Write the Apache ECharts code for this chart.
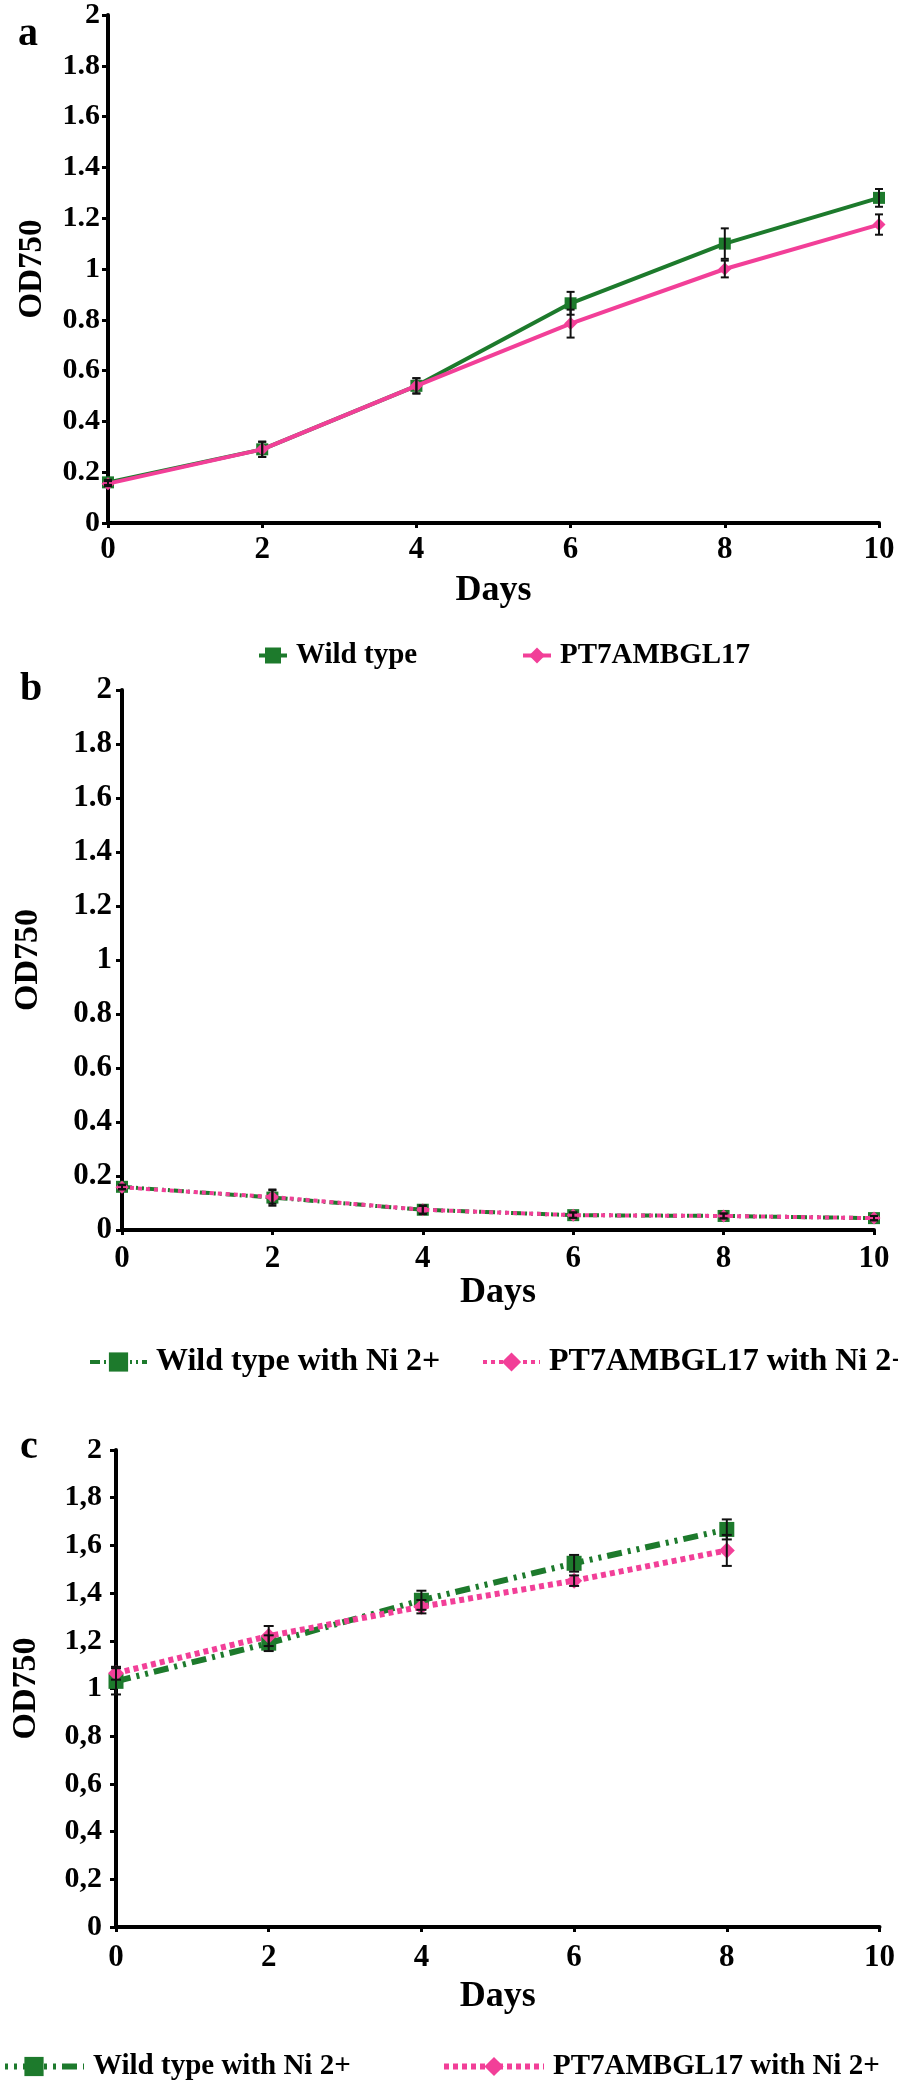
<!DOCTYPE html>
<html>
<head>
<meta charset="utf-8">
<script src="https://cdn.jsdelivr.net/npm/echarts@6/dist/echarts.min.js"></script>
<style>
html,body{margin:0;padding:0;background:#fff;}
#chart{width:898px;height:2083px;}
</style>
</head>
<body>
<div id="chart"></div>
<script>
// ---------- data ----------
const days = [0, 2, 4, 6, 8, 10];
const daysC = [0, 2, 4, 6, 8];
const xTicks = ['0', '2', '4', '6', '8', '10'];
const yTicksDot = ['0', '0.2', '0.4', '0.6', '0.8', '1', '1.2', '1.4', '1.6', '1.8', '2'];
const yTicksComma = ['0', '0,2', '0,4', '0,6', '0,8', '1', '1,2', '1,4', '1,6', '1,8', '2'];

// panel a
const wtA = [0.16, 0.29, 0.54, 0.865, 1.10, 1.28];
const wtAErr = [0.01, 0.03, 0.03, 0.045, 0.06, 0.035];
const ptA = [0.155, 0.29, 0.54, 0.785, 1.00, 1.175];
const ptAErr = [0.01, 0.03, 0.03, 0.055, 0.033, 0.04];
// panel b
const wtB = [0.16, 0.12, 0.075, 0.055, 0.052, 0.044];
const wtBErr = [0.008, 0.03, 0.016, 0.01, 0.009, 0.008];
const ptB = [0.158, 0.122, 0.075, 0.055, 0.052, 0.044];
const ptBErr = [0.008, 0.025, 0.014, 0.01, 0.009, 0.008];
// panel c
const wtC = [1.03, 1.19, 1.37, 1.525, 1.667];
const wtCErr = [0.055, 0.033, 0.04, 0.035, 0.042];
const ptC = [1.064, 1.22, 1.343, 1.452, 1.579];
const ptCErr = [0.027, 0.042, 0.028, 0.022, 0.065];

const names = {
  wtA: 'Wild type', ptA: 'PT7AMBGL17',
  wtB: 'Wild type with Ni 2+', ptB: 'PT7AMBGL17 with Ni 2+'
};

// ---------- styles ----------
const GREEN = '#1d7a2c';
const PINK = '#f23f98';
const FONT = '"Liberation Serif", "Times New Roman", serif';

const pair = (xs, ys) => xs.map((x, i) => [x, ys[i]]);
const triple = (xs, ys, es) => xs.map((x, i) => [x, ys[i], es[i]]);

function errSeries(gi, xs, ys, es, cw) {
  return {
    type: 'custom',
    xAxisIndex: gi, yAxisIndex: gi,
    z: 10,
    silent: true,
    data: triple(xs, ys, es),
    renderItem: function (params, api) {
      const x = api.value(0), y = api.value(1), e = api.value(2);
      const t = api.coord([x, y + e]);
      const b = api.coord([x, y - e]);
      const st = { stroke: '#111', lineWidth: 2 };
      return {
        type: 'group',
        children: [
          { type: 'line', shape: { x1: t[0], y1: t[1], x2: b[0], y2: b[1] }, style: st },
          { type: 'line', shape: { x1: t[0] - cw, y1: t[1], x2: t[0] + cw, y2: t[1] }, style: st },
          { type: 'line', shape: { x1: b[0] - cw, y1: b[1], x2: b[0] + cw, y2: b[1] }, style: st }
        ]
      };
    }
  };
}

function xAxisCfg(gi, labelMargin, nameGap) {
  return {
    type: 'value', gridIndex: gi, min: 0, max: 10, interval: 2,
    name: 'Days', nameLocation: 'middle', nameGap: nameGap,
    nameTextStyle: { fontFamily: FONT, fontWeight: 'bold', fontSize: 36, color: '#000' },
    axisLine: { show: true, onZero: false, lineStyle: { color: '#000', width: 4 } },
    axisTick: { show: true, length: 5, lineStyle: { color: '#000', width: 3 } },
    axisLabel: {
      margin: labelMargin, fontFamily: FONT, fontWeight: 'bold', fontSize: 31, color: '#000',
      formatter: v => xTicks[Math.round(v / 2)]
    },
    splitLine: { show: false }
  };
}

function yAxisCfg(gi, labels, labelSize, labelMargin, nameGap, nameSize) {
  return {
    type: 'value', gridIndex: gi, min: 0, max: 2, interval: 0.2,
    name: 'OD750', nameLocation: 'middle', nameGap: nameGap, nameRotate: 90,
    nameTextStyle: { fontFamily: FONT, fontWeight: 'bold', fontSize: nameSize, color: '#000' },
    axisLine: { show: true, lineStyle: { color: '#000', width: 4 } },
    axisTick: { show: true, length: 6, lineStyle: { color: '#000', width: 3 } },
    axisLabel: {
      margin: labelMargin, fontFamily: FONT, fontWeight: 'bold', fontSize: labelSize, color: '#000',
      formatter: v => labels[Math.round(v / 0.2)]
    },
    splitLine: { show: false }
  };
}

function legendCfg(name, left, top, itemWidth, itemHeight, fontSize, lineWidth, fmt) {
  return {
    data: [name], left: left, top: top, orient: 'horizontal',
    itemWidth: itemWidth, itemHeight: itemHeight, selectedMode: false,
    formatter: fmt || (n => n),
    lineStyle: { width: lineWidth },
    textStyle: { fontFamily: FONT, fontWeight: 'bold', fontSize: fontSize, color: '#000', padding: [0, 0, 0, 4] }
  };
}

const TAG_C = ' \u200b';
const stripC = n => n.replace(TAG_C, '');

const option = {
  animation: false,
  backgroundColor: '#fff',
  grid: [
    { left: 108, right: 19, top: 13, height: 510 },
    { left: 122, right: 24, top: 690, height: 540 },
    { left: 116, right: 18, top: 1450, height: 477 }
  ],
  xAxis: [xAxisCfg(0, 11, 50), xAxisCfg(1, 13, 42), xAxisCfg(2, 15, 52)],
  yAxis: [
    yAxisCfg(0, yTicksDot, 30, 8, 59, 33),
    yAxisCfg(1, yTicksDot, 31, 10, 77, 34),
    yAxisCfg(2, yTicksComma, 30, 14, 73, 34)
  ],
  legend: [
    legendCfg(names.wtA, 252, 636, 28, 20, 29, 4),
    legendCfg(names.ptA, 516, 636, 28, 20, 29, 4),
    legendCfg(names.wtB, 83, 1341, 57, 24, 32, 4),
    legendCfg(names.ptB, 476, 1341, 57, 24, 32, 4),
    legendCfg(names.wtB + TAG_C, -24, 2047, 100, 24, 29, 6, stripC),
    legendCfg(names.ptB + TAG_C, 436, 2047, 100, 24, 29, 6, stripC)
  ],
  graphic: [
    { type: 'text', left: 18, top: 15, style: { text: 'a', font: 'bold 40px ' + FONT, fill: '#000' } },
    { type: 'text', left: 20, top: 670, style: { text: 'b', font: 'bold 40px ' + FONT, fill: '#000' } },
    { type: 'text', left: 20, top: 1428, style: { text: 'c', font: 'bold 40px ' + FONT, fill: '#000' } }
  ],
  series: [
    // panel a
    {
      name: names.wtA, type: 'line', xAxisIndex: 0, yAxisIndex: 0,
      data: pair(days, wtA), symbol: 'rect', symbolSize: 12,
      lineStyle: { color: GREEN, width: 4 }, itemStyle: { color: GREEN }, z: 3
    },
    {
      name: names.ptA, type: 'line', xAxisIndex: 0, yAxisIndex: 0,
      data: pair(days, ptA), symbol: 'diamond', symbolSize: 13,
      lineStyle: { color: PINK, width: 4 }, itemStyle: { color: PINK }, z: 4
    },
    errSeries(0, days, wtA, wtAErr, 4),
    errSeries(0, days, ptA, ptAErr, 4),
    // panel b
    {
      name: names.wtB, type: 'line', xAxisIndex: 1, yAxisIndex: 1,
      data: pair(days, wtB), symbol: 'rect', symbolSize: 12,
      lineStyle: { color: GREEN, width: 4, type: [10, 4, 2, 4, 2, 4], cap: 'butt' },
      itemStyle: { color: GREEN }, z: 3
    },
    {
      name: names.ptB, type: 'line', xAxisIndex: 1, yAxisIndex: 1,
      data: pair(days, ptB), symbol: 'diamond', symbolSize: 13,
      lineStyle: { color: PINK, width: 4, type: [4, 4], cap: 'butt' },
      itemStyle: { color: PINK }, z: 4
    },
    errSeries(1, days, wtB, wtBErr, 4),
    errSeries(1, days, ptB, ptBErr, 4),
    // panel c
    {
      name: names.wtB + TAG_C, type: 'line', xAxisIndex: 2, yAxisIndex: 2,
      data: pair(daysC, wtC), symbol: 'rect', symbolSize: 15,
      lineStyle: { color: GREEN, width: 6, type: [15, 6, 3, 6, 3, 6], cap: 'butt' },
      itemStyle: { color: GREEN }, z: 3
    },
    {
      name: names.ptB + TAG_C, type: 'line', xAxisIndex: 2, yAxisIndex: 2,
      data: pair(daysC, ptC), symbol: 'diamond', symbolSize: 16,
      lineStyle: { color: PINK, width: 6, type: [5, 4], cap: 'butt' },
      itemStyle: { color: PINK }, z: 4
    },
    errSeries(2, daysC, wtC, wtCErr, 5),
    errSeries(2, daysC, ptC, ptCErr, 5)
  ]
};

const chart = echarts.init(document.getElementById('chart'), null, { renderer: 'canvas' });
chart.setOption(option);
</script>
</body>
</html>
